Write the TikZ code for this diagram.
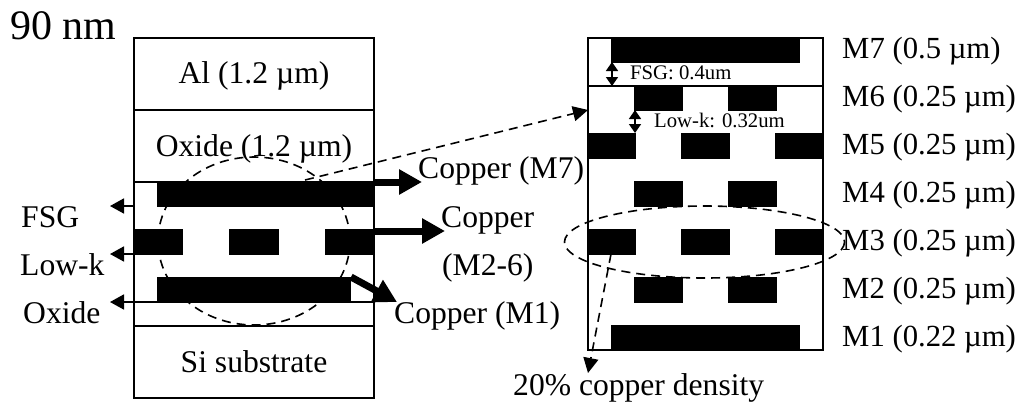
\documentclass[tikz,border=0pt]{standalone}
\usepackage{fontspec}
\setmainfont{Liberation Serif}
\usetikzlibrary{arrows.meta}
\tikzset{
  x=1pt,y=-1pt,
  frame/.style={draw=black,line width=1.8pt,fill=none},
  metal/.style={fill=black,draw=none},
  lab/.style={anchor=base west,inner sep=0,font=\fontsize{31.6}{32}\selectfont},
  labr/.style={anchor=base west,inner sep=0,font=\fontsize{30.7}{31}\selectfont},
  labc/.style={anchor=base,inner sep=0,font=\fontsize{31.6}{32}\selectfont},
  smalllab/.style={anchor=base west,inner sep=0,font=\fontsize{20.7}{21}\selectfont},
  dashring/.style={draw=black,line width=1.6pt,dash pattern=on 9pt off 6pt},
  dasharrow/.style={dash pattern=on 9pt off 6pt,line width=1.6pt,-{Triangle[length=15pt,width=15pt]}},
  fatarrow/.style={line width=7pt,-{Triangle[length=23pt,width=24pt]}},
  thinarrow/.style={line width=1.8pt,-{Triangle[length=14pt,width=15pt]}},
  twinarrow/.style={line width=1.6pt,{Triangle[length=9pt,width=12pt]}-{Triangle[length=9pt,width=12pt]}},
}
\begin{document}
\begin{tikzpicture}
\useasboundingbox (0,0) rectangle (1035,405);
% left stack
\draw[dashring] (254,241) ellipse [x radius=96,y radius=84];
\draw[frame] (134,38) rectangle (374,398);
\draw[frame] (134,110) -- (374,110);
\draw[frame] (134,182) -- (374,182);
\draw[frame] (134,326) -- (374,326);
\draw[frame] (351,302) -- (374,302);
\fill[metal] (157,181) rectangle (375,207);
\fill[metal] (133,229) rectangle (183,255);
\fill[metal] (229,229) rectangle (279,255);
\fill[metal] (325,229) rectangle (375,255);
\fill[metal] (157,277) rectangle (351,303);
% right stack
\draw[frame] (588,38) rectangle (823,350);
\draw[frame] (588,86) -- (823,86);
\fill[metal] (611,37) rectangle (800,63);
\fill[metal] (634,86) rectangle (683,111);
\fill[metal] (728,86) rectangle (777,111);
\foreach \y in {133,229}{
  \fill[metal] (587,\y) rectangle (636,\y+26);
  \fill[metal] (681,\y) rectangle (730,\y+26);
  \fill[metal] (775,\y) rectangle (824,\y+26);
}
\foreach \y in {181,277}{
  \fill[metal] (634,\y) rectangle (683,\y+26);
  \fill[metal] (728,\y) rectangle (777,\y+26);
}
\fill[metal] (611,325) rectangle (800,351);
\draw[dashring] (704.5,242) ellipse [x radius=140,y radius=36];
% connector ends
\coordinate (a1) at (374,182); \coordinate (a2) at (422,182);
\coordinate (b1) at (374,231); \coordinate (b2) at (445,231);
\coordinate (c1) at (351,277); \coordinate (c2) at (397,302);
\coordinate (f1) at (134,206); \coordinate (f2) at (110,206);
\coordinate (l1) at (134,254); \coordinate (l2) at (110,254);
\coordinate (o1) at (157,302); \coordinate (o2) at (110,302);
\coordinate (d1) at (305,180); \coordinate (d2) at (588,110);
\coordinate (e1) at (611,254); \coordinate (e2) at (588,373);
\coordinate (t1) at (612,62); \coordinate (t2) at (612,86);
\coordinate (u1) at (635,110); \coordinate (u2) at (635,133);
\draw[fatarrow] (a1) -- (a2);
\draw[fatarrow] (b1) -- (b2);
\draw[fatarrow] (c1) -- (c2);
\draw[thinarrow] (f1) -- (f2);
\draw[thinarrow] (l1) -- (l2);
\draw[thinarrow] (o1) -- (o2);
\draw[dasharrow] (d1) -- (d2);
\draw[dasharrow] (e1) -- (e2);
\draw[twinarrow] (t1) -- (t2);
\draw[twinarrow] (u1) -- (u2);
% labels
\node[anchor=base west,inner sep=0,font=\fontsize{42}{42}\selectfont] (title) at (10,39) {90 nm};
\node[labc] (al) at (254,83) {Al (1.2 µm)};
\node[labc] (ox) at (254,156) {Oxide (1.2 µm)};
\node[labc] (si) at (254,372) {Si substrate};
\node[lab] (fsg) at (21,227) {FSG};
\node[lab] (lowk) at (20,275) {Low-k};
\node[lab] (oxl) at (23,323) {Oxide};
\node[lab] (cu7) at (418,178) {Copper (M7)};
\node[lab] (cu2a) at (441,227) {Copper};
\node[lab] (cu2b) at (442,275) {(M2-6)};
\node[lab] (cu1) at (394,323) {Copper (M1)};
\node[labr] (m7) at (842,58) {M7 (0.5 µm)};
\node[labr] (m6) at (842,106) {M6 (0.25 µm)};
\node[labr] (m5) at (842,154) {M5 (0.25 µm)};
\node[labr] (m4) at (842,202) {M4 (0.25 µm)};
\node[labr] (m3) at (842,250) {M3 (0.25 µm)};
\node[labr] (m2) at (842,298) {M2 (0.25 µm)};
\node[labr] (m1) at (842,346) {M1 (0.22 µm)};
\node[lab] (dens) at (513,395) {20\% copper density};
\node[smalllab] (fsgd) at (630,79) {FSG: 0.4um};
\node[smalllab] (lowd) at (654,127) {Low-k: 0.32um};
\end{tikzpicture}
\end{document}
